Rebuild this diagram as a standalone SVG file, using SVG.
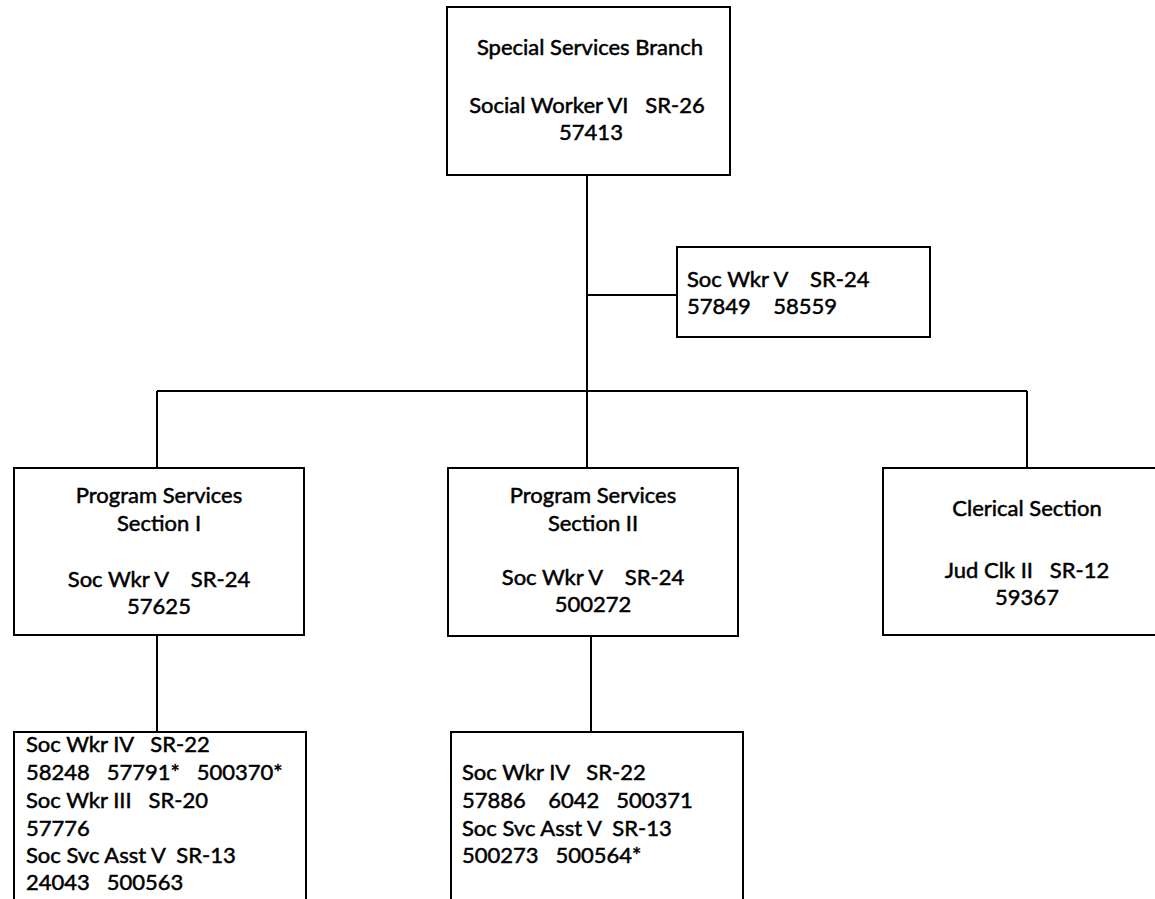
<svg xmlns="http://www.w3.org/2000/svg" width="1155" height="899" viewBox="0 0 1155 899" xml:space="preserve">
<style>
  .box { fill: #ffffff; stroke: #000000; stroke-width: 2; }
  .ln { fill: none; stroke: #000000; stroke-width: 2; }
  text { font-family: Lato, "Liberation Sans", sans-serif; font-size: 22px; fill: #000000; stroke: #000000; stroke-width: 0.5; white-space: pre; }
  .c { text-anchor: middle; }
  .t { font-size: 22px; }
</style>
<rect width="1155" height="899" fill="#ffffff"/>
<g id="connectors">
  <line class="ln" x1="587" y1="175" x2="587" y2="468"/>
  <line class="ln" x1="587" y1="295" x2="677" y2="295"/>
  <line class="ln" x1="157" y1="391" x2="1027" y2="391"/>
  <line class="ln" x1="157" y1="391" x2="157" y2="468"/>
  <line class="ln" x1="1027" y1="391" x2="1027" y2="468"/>
  <line class="ln" x1="157" y1="635" x2="157" y2="732"/>
  <line class="ln" x1="591" y1="636" x2="591" y2="732"/>
</g>
<g id="branch">
  <rect class="box" x="447" y="7" width="283" height="168"/>
  <text class="c t" x="590" y="55">Special Services Branch</text>
  <text class="c t" x="587" y="113">Social Worker VI   SR-26</text>
  <text class="c t" x="591" y="140">57413</text>
</g>
<g id="socwkr-v-staff">
  <rect class="box" x="677" y="247" width="253" height="90"/>
  <text x="687" y="287">Soc Wkr V    SR-24</text>
  <text x="687" y="314">57849    58559</text>
</g>
<g id="section-1">
  <rect class="box" x="14" y="468" width="290" height="167"/>
  <text class="c" x="159" y="503">Program Services</text>
  <text class="c" x="159" y="531">Section I</text>
  <text class="c" x="159" y="587">Soc Wkr V    SR-24</text>
  <text class="c" x="159" y="614">57625</text>
</g>
<g id="section-2">
  <rect class="box" x="448" y="468" width="290" height="168"/>
  <text class="c" x="593" y="503">Program Services</text>
  <text class="c" x="593" y="531">Section II</text>
  <text class="c" x="593" y="585">Soc Wkr V    SR-24</text>
  <text class="c" x="593" y="612">500272</text>
</g>
<g id="clerical">
  <rect class="box" x="883" y="468" width="290" height="167"/>
  <text class="c" x="1027" y="516">Clerical Section</text>
  <text class="c" x="1027" y="578">Jud Clk II   SR-12</text>
  <text class="c" x="1027" y="605">59367</text>
</g>
<g id="section-1-staff">
  <rect class="box" x="14" y="732" width="292" height="190"/>
  <text x="26" y="752">Soc Wkr IV   SR-22</text>
  <text x="26" y="780">58248   57791*   500370*</text>
  <text x="26" y="808">Soc Wkr III   SR-20</text>
  <text x="26" y="836">57776</text>
  <text x="26" y="863">Soc Svc Asst V  SR-13</text>
  <text x="26" y="890">24043   500563</text>
</g>
<g id="section-2-staff">
  <rect class="box" x="451" y="732" width="292" height="190"/>
  <text x="462" y="780">Soc Wkr IV   SR-22</text>
  <text x="462" y="808">57886    6042   500371</text>
  <text x="462" y="836">Soc Svc Asst V  SR-13</text>
  <text x="462" y="863">500273   500564*</text>
</g>
</svg>
